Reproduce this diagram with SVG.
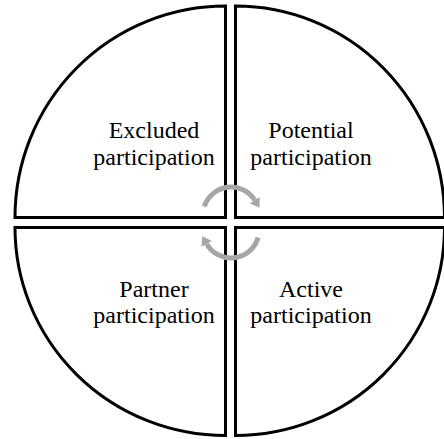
<svg xmlns="http://www.w3.org/2000/svg" width="444" height="439" viewBox="0 0 444 439">
  <style>
    .q { fill: #ffffff; stroke: #000000; stroke-width: 3; stroke-linejoin: miter; }
    .t { font-family: "Liberation Serif", "Times New Roman", serif; font-size: 24px; fill: #000000; text-anchor: middle; }
    .arc { fill: none; stroke: #a6a6a6; stroke-width: 5; }
  </style>
  <defs>
    <marker id="head" markerUnits="userSpaceOnUse" viewBox="0 0 9 12" refX="0" refY="6" markerWidth="9" markerHeight="12" orient="auto">
      <path d="M0,0 L9,6 L0,12 z" fill="#a6a6a6"/>
    </marker>
  </defs>
  <rect width="444" height="439" fill="#ffffff"/>
  <g id="excluded">
    <path class="q" d="M225.5 217.5 L15 217.5 A210.5 211.5 0 0 1 225.5 6 Z"/>
    <text class="t" x="154" y="138">Excluded</text>
    <text class="t" x="154" y="165">participation</text>
  </g>
  <g id="potential">
    <path class="q" d="M235.5 217.5 L235.5 6 A209 211.5 0 0 1 444.5 217.5 Z"/>
    <text class="t" x="311" y="138">Potential</text>
    <text class="t" x="311" y="165">participation</text>
  </g>
  <g id="partner">
    <path class="q" d="M225.5 227.5 L225.5 435.5 A210.5 208 0 0 1 15 227.5 Z"/>
    <text class="t" x="154" y="297">Partner</text>
    <text class="t" x="154" y="323">participation</text>
  </g>
  <g id="active">
    <path class="q" d="M235.5 227.5 L444.5 227.5 A209 208 0 0 1 235.5 435.5 Z"/>
    <text class="t" x="311" y="297">Active</text>
    <text class="t" x="311" y="323">participation</text>
  </g>
  <g id="connectors">
    <path class="arc" d="M204.3 206.6 A28 28 0 0 1 254.7 200.2" marker-end="url(#head)"/>
    <path class="arc" d="M258 237.5 A28 28 0 0 1 206.75 244" marker-end="url(#head)"/>
  </g>
</svg>
